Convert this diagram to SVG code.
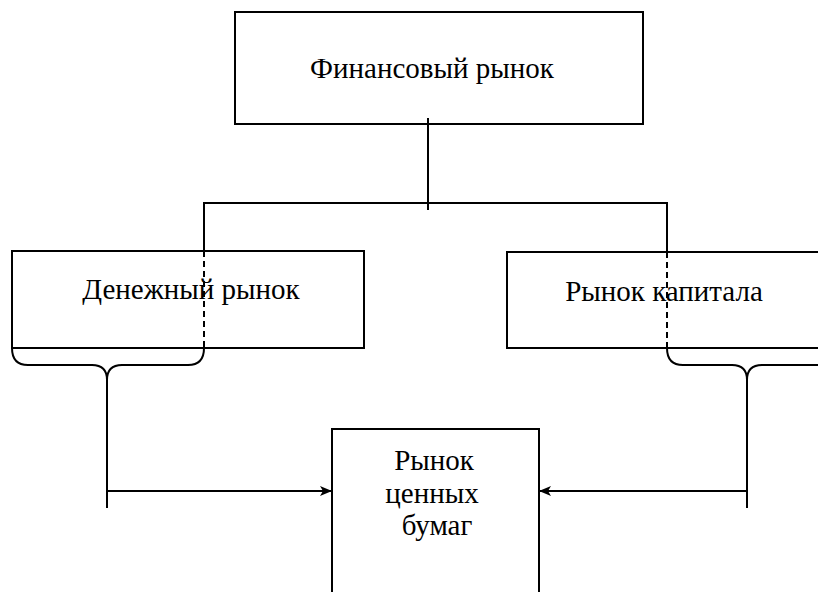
<svg xmlns="http://www.w3.org/2000/svg" width="818" height="592" viewBox="0 0 818 592">
  <style>
    .box { fill: #ffffff; stroke: #000000; stroke-width: 2; }
    .line { fill: none; stroke: #000000; stroke-width: 2; }
    .dash { fill: none; stroke: #000000; stroke-width: 2; stroke-dasharray: 6 4; }
    .label { font-family: "Liberation Serif", "Times New Roman", serif; font-size: 29px; fill: #000000; text-anchor: middle; }
  </style>
  <defs>
    <marker id="arrow" viewBox="0 0 12 10" refX="12" refY="5" markerWidth="12" markerHeight="10" markerUnits="userSpaceOnUse" orient="auto">
      <path d="M0,0 L12,5 L0,10 L3,5 Z" fill="#000000"/>
    </marker>
  </defs>
  <rect width="818" height="592" fill="#ffffff"/>

  <g id="financial-market">
    <rect class="box" x="235" y="12" width="408" height="112"/>
    <text class="label" x="432" y="78">Финансовый рынок</text>
  </g>

  <g id="money-market">
    <rect class="box" x="12" y="251" width="352" height="97"/>
    <text class="label" x="191" y="299">Денежный рынок</text>
  </g>

  <g id="capital-market">
    <rect class="box" x="507" y="252" width="330" height="96"/>
    <text class="label" x="664" y="301">Рынок капитала</text>
  </g>

  <g id="securities-market">
    <rect class="box" x="332" y="429" width="207" height="180"/>
    <text class="label" x="434" y="470">Рынок</text>
    <text class="label" x="432" y="503">ценных</text>
    <text class="label" x="437" y="535">бумаг</text>
  </g>

  <g id="connectors">
    <!-- trunk from the top box and the split bar -->
    <line class="line" x1="428" y1="118" x2="428" y2="210"/>
    <polyline class="line" points="204,251 204,203 667,203 667,252"/>
    <!-- branches continue through the lower boxes as dashed lines -->
    <line class="dash" x1="204" y1="251" x2="204" y2="348"/>
    <line class="dash" x1="667" y1="252" x2="667" y2="348"/>
    <!-- braces under the lower boxes -->
    <path class="line" d="M12,348 Q12,365 28,365 L92,365 Q107,365 107,380 Q107,365 122,365 L188,365 Q204,365 204,348"/>
    <path class="line" d="M667,348 Q667,365 683,365 L732,365 Q747,365 747,380 Q747,365 762,365 L830,365"/>
    <!-- feeds into the securities market -->
    <line class="line" x1="107" y1="378" x2="107" y2="508"/>
    <line class="line" x1="107" y1="491" x2="332" y2="491" marker-end="url(#arrow)"/>
    <line class="line" x1="747" y1="378" x2="747" y2="508"/>
    <line class="line" x1="747" y1="491" x2="539" y2="491" marker-end="url(#arrow)"/>
  </g>
</svg>
